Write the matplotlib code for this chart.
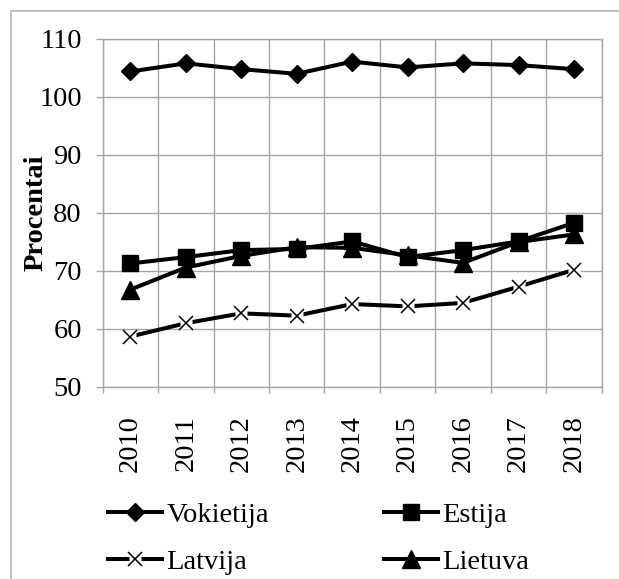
import numpy as np
import matplotlib
matplotlib.use('Agg')
import matplotlib.pyplot as plt
from matplotlib.patches import Rectangle
from matplotlib.legend_handler import HandlerTuple

years = ['2010', '2011', '2012', '2013', '2014', '2015', '2016', '2017', '2018']
vokietija = [104.4, 105.8, 104.8, 104.0, 106.1, 105.1, 105.8, 105.5, 104.8]
estija = [71.3, 72.4, 73.6, 73.8, 75.1, 72.4, 73.6, 75.1, 78.3]
latvija = [58.7, 61.0, 62.7, 62.3, 64.3, 63.9, 64.5, 67.3, 70.2]
lietuva = [66.8, 70.6, 72.6, 74.1, 74.0, 72.7, 71.4, 75.0, 76.3]

plt.rcParams['font.family'] = ['Liberation Serif', 'DejaVu Serif']
plt.rcParams['font.size'] = 20.5

grey = '#a6a6a6'
lw = 2.9

fig = plt.figure(figsize=(6.19, 5.79), dpi=100)
ax = fig.add_axes([102.7/619, 1-387/579, 499/619, 348/579])

x = np.arange(len(years))
h_vok, = ax.plot(x, vokietija, color='black', lw=lw, marker='D', ms=9, zorder=3)
h_est, = ax.plot(x, estija, color='black', lw=lw, marker='s', ms=11, zorder=3)
h_lat, = ax.plot(x, latvija, color='black', lw=lw, zorder=3)
h_lat_bg, = ax.plot(x, latvija, ls='none', marker='s', ms=9, mfc='white', mec='none', zorder=4)
h_lat_x, = ax.plot(x, latvija, ls='none', marker='x', ms=10, mew=1.1, color='black', zorder=5)
h_lie, = ax.plot(x, lietuva, color='black', lw=lw, marker='^', ms=13, zorder=3)

ax.set_xlim(-0.5, len(years)-0.5)
ax.set_ylim(50, 110)
ax.set_yticks(np.arange(50, 111, 10))
ax.set_xticks(x)
ax.set_xticklabels(years, rotation=90)
ax.set_xticks(np.arange(-0.5, len(years), 1), minor=True)
ax.tick_params(axis='x', which='major', length=0, pad=20)
ax.tick_params(axis='x', which='minor', length=4.5, color=grey, width=1)
ax.tick_params(axis='y', length=5, color=grey, width=1, pad=10)
ax.grid(True, axis='y', which='major', color=grey, lw=1)
ax.grid(True, axis='x', which='minor', color=grey, lw=1)
ax.set_axisbelow(True)
for s in ax.spines.values():
    s.set_color(grey)
    s.set_linewidth(1)

ax.set_ylabel('Procentai', fontweight='bold')
ax.yaxis.set_label_coords(-0.1086, 0.5)

fig.legend([h_vok, (h_lat, h_lat_bg, h_lat_x), h_est, h_lie],
           ['Vokietija', 'Latvija', 'Estija', 'Lietuva'],
           handler_map={tuple: HandlerTuple(ndivide=1)},
           ncol=2, frameon=False, loc='upper left',
           bbox_to_anchor=(108/619, 1-502/579), borderpad=0, borderaxespad=0,
           handlelength=1.9, handletextpad=0.15, columnspacing=4.05,
           labelspacing=0.74)

# outer frame of the chart area
fig.add_artist(Rectangle((11/619, -0.1), 1.2, 1.1 - 10.5/579, transform=fig.transFigure,
                         fill=False, edgecolor='#b4b4b4', lw=1.2))

fig.savefig('out.png', dpi=100)
